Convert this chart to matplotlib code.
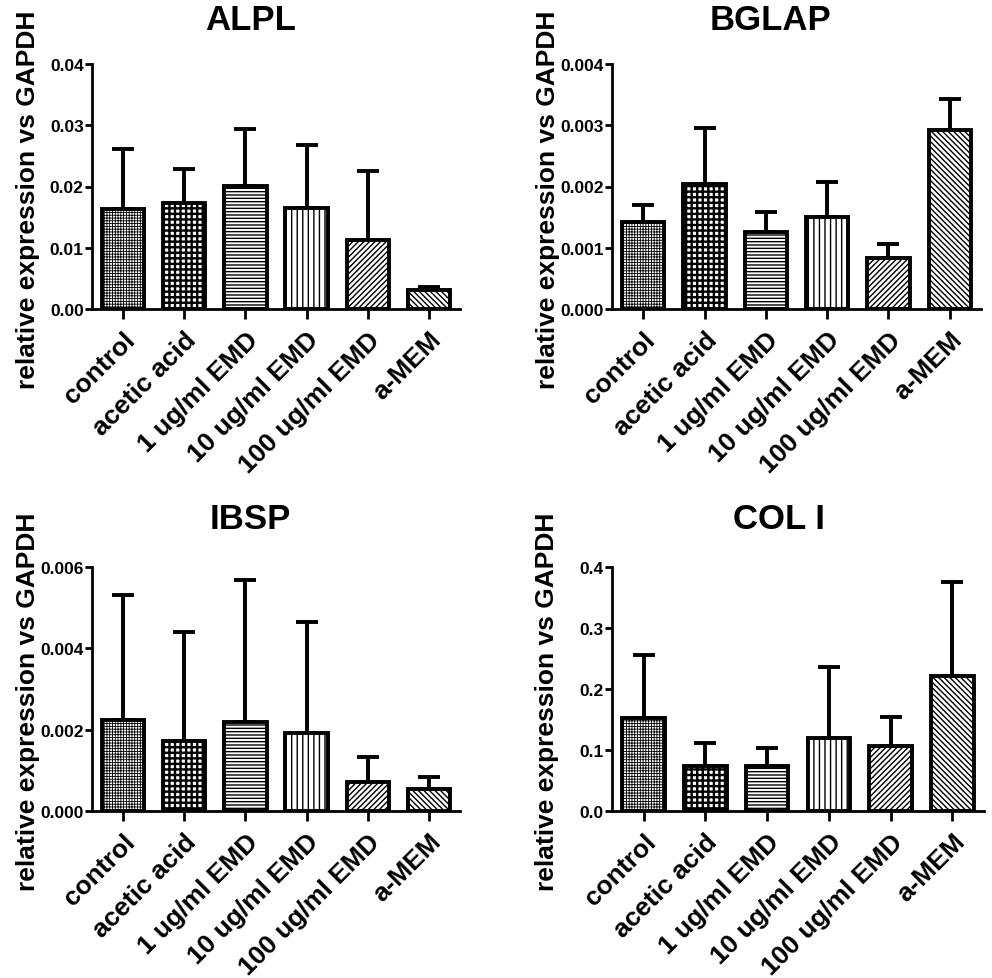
import numpy as np
import matplotlib
matplotlib.use("Agg")
import matplotlib.pyplot as plt
from matplotlib.ticker import FormatStrFormatter

plt.rcParams['font.family'] = ['Liberation Sans', 'DejaVu Sans']
plt.rcParams['font.weight'] = 'bold'

groups = ["control", "acetic acid", "1 ug/ml EMD", "10 ug/ml EMD", "100 ug/ml EMD", "a-MEM"]

alpl_mean = [0.0164, 0.0173, 0.0201, 0.0165, 0.0113, 0.0031]
alpl_err = [0.0262, 0.0229, 0.0294, 0.0267, 0.0226, 0.0036]

bglap_mean = [0.00142, 0.00204, 0.00126, 0.00151, 0.00084, 0.00292]
bglap_err = [0.00169, 0.00296, 0.00159, 0.00207, 0.00106, 0.00343]

ibsp_mean = [0.00224, 0.00173, 0.00218, 0.00193, 0.00072, 0.00055]
ibsp_err = [0.00532, 0.00440, 0.00569, 0.00465, 0.00134, 0.00083]

col_mean = [0.152, 0.073, 0.074, 0.120, 0.107, 0.221]
col_err = [0.255, 0.112, 0.104, 0.236, 0.154, 0.376]

hatches = ['++++++', '+++', '-----', '|||', '//////', '\\\\\\\\\\\\']
hatch_lw = [0.6, 1.7, 1.0, 1.0, 1.0, 1.0]

panels = [
    ("ALPL", alpl_mean, alpl_err, 0.04, 0.01, '%.2f'),
    ("BGLAP", bglap_mean, bglap_err, 0.004, 0.001, '%.3f'),
    ("IBSP", ibsp_mean, ibsp_err, 0.006, 0.002, '%.3f'),
    ("COL I", col_mean, col_err, 0.4, 0.1, '%.1f'),
]

W, H = 992, 979
fig = plt.figure(figsize=(W / 100, H / 100), dpi=100)

# axes boxes in pixels: left, right, top, bottom
boxes = [(92, 460, 65, 310), (612, 981, 65, 310),
         (92, 460, 568, 812), (612, 984, 568, 812)]
title_y = [1.18, 1.18, 1.197, 1.197]
title_x = [0.43, 0.43, 0.43, 0.45]

for i, (name, mean, err, ymax, step, fmt) in enumerate(panels):
    l, r, t, b = boxes[i]
    ax = fig.add_axes([l / W, 1 - b / H, (r - l) / W, (b - t) / H])
    x = np.arange(len(groups))
    for j in range(len(groups)):
        with plt.rc_context({'hatch.linewidth': hatch_lw[j]}):
            ax.bar(x[j], mean[j], width=0.69, color='white', edgecolor='black',
                   linewidth=2.8, hatch=hatches[j], zorder=2)
    ax.errorbar(x, mean, yerr=[np.zeros(len(mean)), np.array(err) - np.array(mean)],
                fmt='none', ecolor='black', elinewidth=2.8, capsize=8, capthick=2.8, zorder=1)
    ax.set_xlim(-0.51, 5.51)
    ax.set_ylim(0, ymax)
    ax.set_yticks(np.arange(0, ymax + step / 2, step))
    ax.yaxis.set_major_formatter(FormatStrFormatter(fmt))
    ax.set_xticks(x)
    ax.set_xticklabels(groups, rotation=45, ha='right', rotation_mode='anchor',
                       fontsize=19, fontweight='bold')
    for s in ['top', 'right']:
        ax.spines[s].set_visible(False)
    for s in ['left', 'bottom']:
        ax.spines[s].set_linewidth(2)
    ax.tick_params(axis='y', direction='out', length=5, width=2, labelsize=12.5, pad=1)
    ax.tick_params(axis='x', direction='out', length=7, width=2, pad=6)
    for lab in ax.get_yticklabels():
        lab.set_fontweight('bold')
    ax.text(title_x[i], title_y[i], name, transform=ax.transAxes, ha='center', va='center',
            fontsize=25, fontweight='bold')
    ax.text(-0.174, 0.45, "relative expression vs GAPDH", transform=ax.transAxes,
            rotation=90, ha='center', va='center', fontsize=19, fontweight='bold')

fig.savefig("out.png", dpi=100)
